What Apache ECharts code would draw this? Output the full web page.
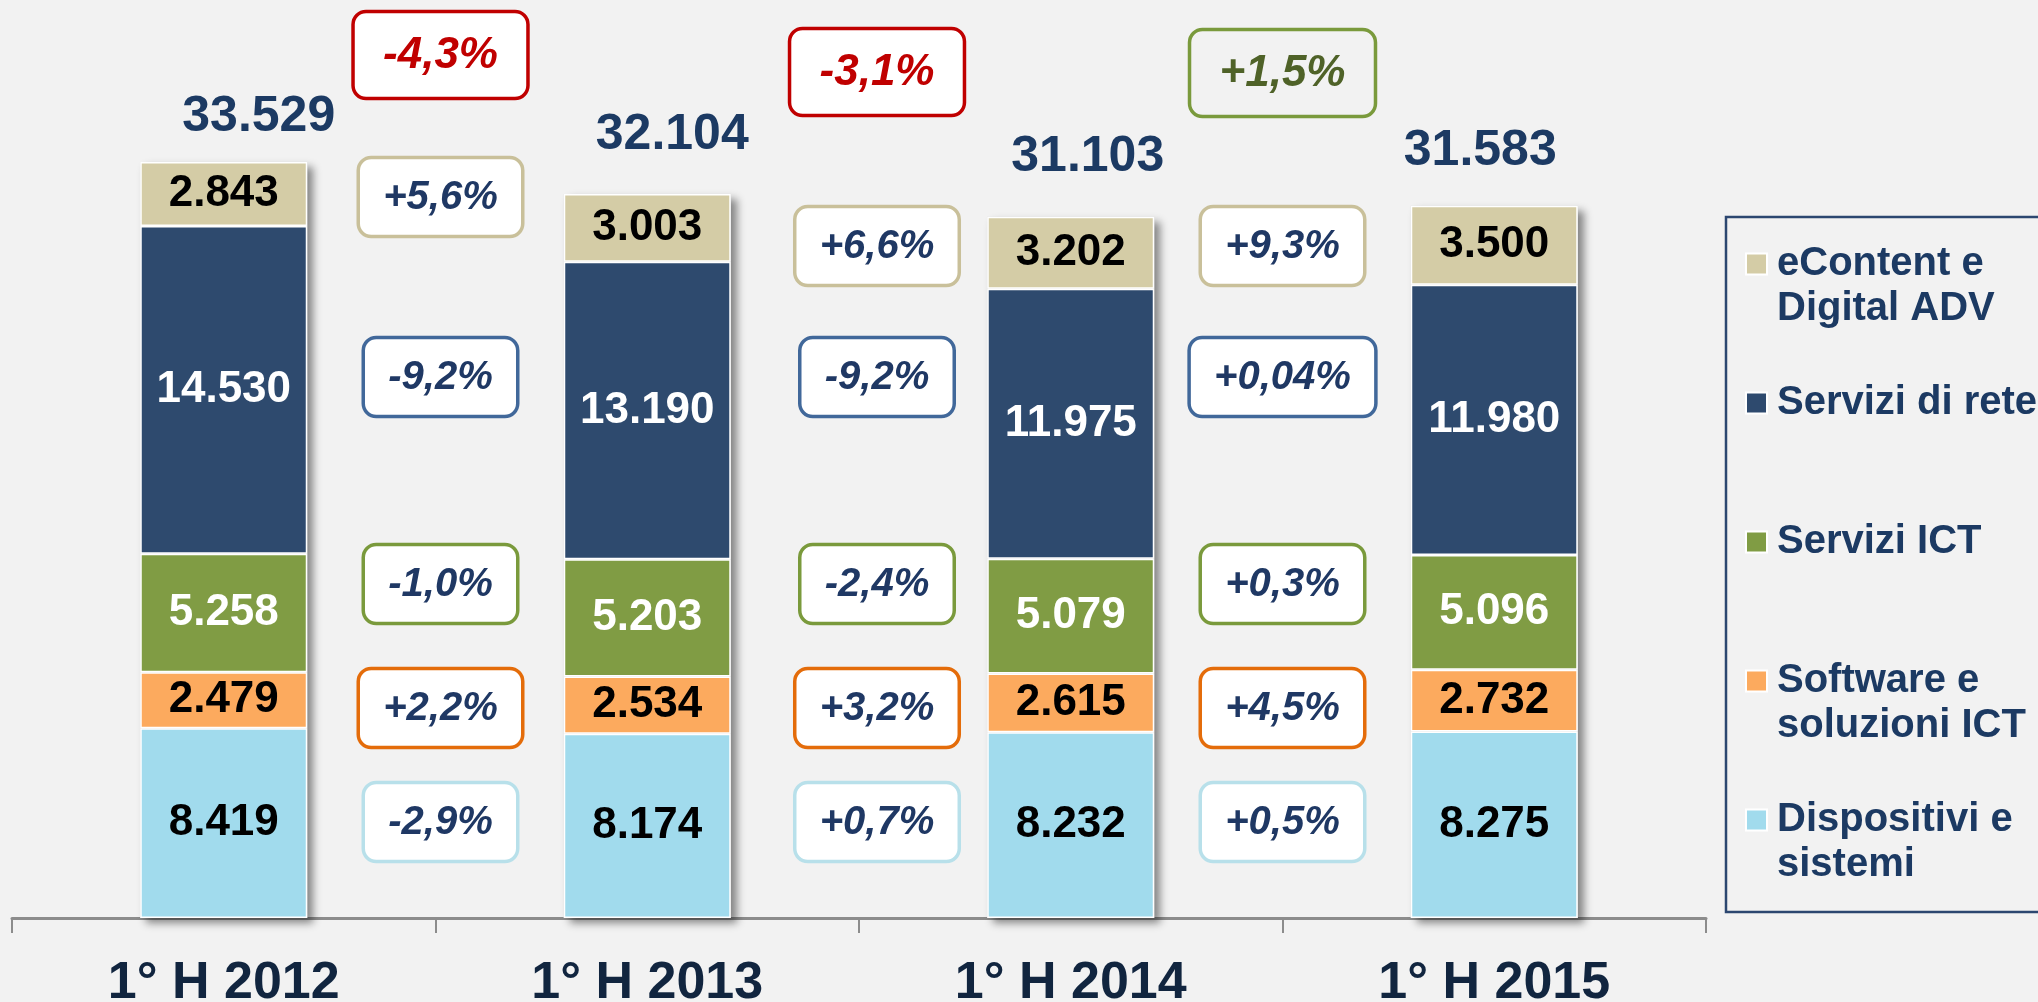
<!DOCTYPE html>
<html>
<head>
<meta charset="utf-8">
<title>Mercato digitale 1° H</title>
<script src="https://cdn.jsdelivr.net/npm/echarts@6/dist/echarts.min.js"></script>
<style>
    html, body { margin: 0; padding: 0; background: #f2f2f2; }
    #main { width: 2038px; height: 1002px; }
</style>
</head>
<body>
<div id="main"></div>
<script>
// dati (milioni di euro)
var categorie = ['1° H 2012', '1° H 2013', '1° H 2014', '1° H 2015'];
var dispositivi = [8419, 8174, 8232, 8275];
var software = [2479, 2534, 2615, 2732];
var serviziIct = [5258, 5203, 5079, 5096];
var serviziRete = [14530, 13190, 11975, 11980];
var eContent = [2843, 3003, 3202, 3500];

// variazioni tra un semestre e il successivo
var varTotale = ['-4,3%', '-3,1%', '+1,5%'];
var varEContent = ['+5,6%', '+6,6%', '+9,3%'];
var varRete = ['-9,2%', '-9,2%', '+0,04%'];
var varIct = ['-1,0%', '-2,4%', '+0,3%'];
var varSoftware = ['+2,2%', '+3,2%', '+4,5%'];
var varDispositivi = ['-2,9%', '+0,7%', '+0,5%'];

var FONT = '"Liberation Sans", Arial, sans-serif';
var NAVY = '#1c3a63';

// totale per semestre
var totali = [];
for (var i = 0; i < categorie.length; i++) {
    totali.push(dispositivi[i] + software[i] + serviziIct[i] + serviziRete[i] + eContent[i]);
}

// nel grafico originale i totali non sono centrati sulla colonna
var spostTotali = [[35, 0], [25, -14], [17, -14], [-14, -10]];

function fmt(v) {
    return String(v).replace(/\B(?=(\d{3})+(?!\d))/g, '.');
}

function segmento(nome, dati, colore, testo) {
    return {
        name: nome,
        type: 'bar',
        stack: 'tot',
        barWidth: 167,
        barGap: '-100%',
        z: 3,
        itemStyle: { color: colore, borderColor: '#ffffff', borderWidth: 1.5 },
        label: {
            show: true,
            position: 'inside',
            color: testo,
            fontFamily: FONT,
            fontWeight: 'bold',
            fontSize: 44,
            formatter: function (p) { return fmt(p.value); }
        },
        data: dati
    };
}

var oChart = echarts.init(document.getElementById('main'));

// legende: una per voce, così le icone restano allineate alla prima riga
var voci = [
    { name: 'eContent e Digital ADV', testo: '\neContent e\nDigital ADV', y: 264, righe: 3 },
    { name: 'Servizi di rete', testo: 'Servizi di rete', y: 403, righe: 1 },
    { name: 'Servizi ICT', testo: 'Servizi ICT', y: 542, righe: 1 },
    { name: 'Software e soluzioni ICT', testo: '\nSoftware e\nsoluzioni ICT', y: 681, righe: 3 },
    { name: 'Dispositivi e sistemi', testo: '\nDispositivi e\nsistemi', y: 820, righe: 3 }
];
var legende = voci.map(function (v) {
    return {
        data: [v.name],
        orient: 'vertical',
        left: 1745,
        top: v.y - v.righe * 45 / 2,
        padding: 0,
        itemWidth: 21,
        itemHeight: 21,
        icon: 'rect',
        selectedMode: false,
        formatter: function () { return v.testo; },
        textStyle: {
            color: NAVY,
            fontFamily: FONT,
            fontWeight: 'bold',
            fontSize: 40,
            lineHeight: 45,
            padding: [0, 0, 0, 5]
        }
    };
});

var option = {
    backgroundColor: '#f2f2f2',
    animation: false,
    legend: legende,
    // le etichette dell'asse escono in basso come nell'originale
    grid: { left: 12, right: 332, top: 16, bottom: 84, outerBoundsMode: 'none' },
    xAxis: {
        type: 'category',
        data: categorie,
        axisLine: { lineStyle: { color: '#8c8c8c', width: 3 } },
        axisTick: { show: true, length: 15, lineStyle: { color: '#8c8c8c', width: 2 } },
        axisLabel: {
            margin: 40,
            color: '#11253f',
            fontFamily: FONT,
            fontWeight: 'bold',
            fontSize: 52
        }
    },
    yAxis: {
        type: 'value',
        min: 0,
        max: 40000,
        show: false,
        splitLine: { show: false }
    },
    series: [
        // ombra dietro le colonne
        {
            name: 'ombra',
            type: 'bar',
            stack: 'bg',
            barWidth: 167,
            barGap: '-100%',
            silent: true,
            z: 1,
            itemStyle: {
                color: '#d0d0d0',
                shadowColor: 'rgba(0,0,0,0.45)',
                shadowBlur: 8,
                shadowOffsetX: 6,
                shadowOffsetY: 5
            },
            data: totali
        },
        segmento('Dispositivi e sistemi', dispositivi, '#a1dbed', '#000000'),
        segmento('Software e soluzioni ICT', software, '#fcaa5e', '#000000'),
        segmento('Servizi ICT', serviziIct, '#809c44', '#ffffff'),
        segmento('Servizi di rete', serviziRete, '#2e4a6e', '#ffffff'),
        segmento('eContent e Digital ADV', eContent, '#d4cca6', '#000000'),
        // etichetta del totale sopra la colonna
        {
            name: 'Totale',
            type: 'bar',
            stack: 'tot',
            barWidth: 167,
            barGap: '-100%',
            z: 3,
            label: {
                show: true,
                position: 'top',
                distance: 20,
                color: NAVY,
                fontFamily: FONT,
                fontWeight: 'bold',
                fontSize: 50,
                lineHeight: 50,
                formatter: function (p) { return fmt(totali[p.dataIndex]); }
            },
            data: totali.map(function (t, k) {
                return { value: 0, label: { offset: spostTotali[k] } };
            })
        }
    ]
};

oChart.setOption(option);

// box con le variazioni percentuali, tra una colonna e l'altra
var cnv = document.createElement('canvas').getContext('2d');
function larghezza(t, fs) {
    cnv.font = 'italic bold ' + fs + 'px ' + FONT;
    return cnv.measureText(t).width;
}

function box(cx, cy, testo, bordo, colore, sfondo, fs, h, pad) {
    var w = larghezza(testo, fs) + pad * 2;
    return {
        type: 'group',
        x: cx - w / 2,
        y: cy - h / 2,
        z: 10,
        children: [{
            type: 'rect',
            shape: { x: 0, y: 0, width: w, height: h, r: 13 },
            style: { fill: sfondo, stroke: bordo, lineWidth: 3.5 }
        }, {
            type: 'text',
            x: w / 2,
            y: h / 2 + 1,
            style: {
                text: testo,
                fill: colore,
                font: 'italic bold ' + fs + 'px ' + FONT,
                align: 'center',
                verticalAlign: 'middle'
            }
        }]
    };
}

var spostX = [5, 18, 0];
var yTop = [55, 72, 73];
var yEContent = [197, 246, 246];
var righe = [
    { v: varRete, bordo: '#41689a', y: 377 },
    { v: varIct, bordo: '#7a9a3c', y: 584 },
    { v: varSoftware, bordo: '#e46c0a', y: 708 },
    { v: varDispositivi, bordo: '#b8e0ea', y: 822 }
];

var grafici = [];
for (var c = 0; c < 3; c++) {
    var x0 = oChart.convertToPixel({ xAxisIndex: 0 }, c);
    var x1 = oChart.convertToPixel({ xAxisIndex: 0 }, c + 1);
    var cx = (x0 + x1) / 2 + spostX[c];

    var neg = varTotale[c].charAt(0) === '-';
    grafici.push(box(cx, yTop[c], varTotale[c],
        neg ? '#c00000' : '#7a9a3c',
        neg ? '#c00000' : '#4f6228',
        neg ? '#ffffff' : '#f2f2f2', 44, 87, 30));

    grafici.push(box(cx, yEContent[c], varEContent[c], '#c9c09a', '#1f3864', '#ffffff', 40, 79, 25));
    for (var r = 0; r < righe.length; r++) {
        grafici.push(box(cx, righe[r].y, righe[r].v[c], righe[r].bordo, '#1f3864', '#ffffff', 40, 79, 25));
    }
}

// cornice della legenda
grafici.push({
    type: 'rect',
    shape: { x: 1726, y: 217, width: 400, height: 695 },
    style: { fill: 'none', stroke: '#2c4770', lineWidth: 2.5 },
    z: 0
});

oChart.setOption({ graphic: grafici });
</script>
</body>
</html>
